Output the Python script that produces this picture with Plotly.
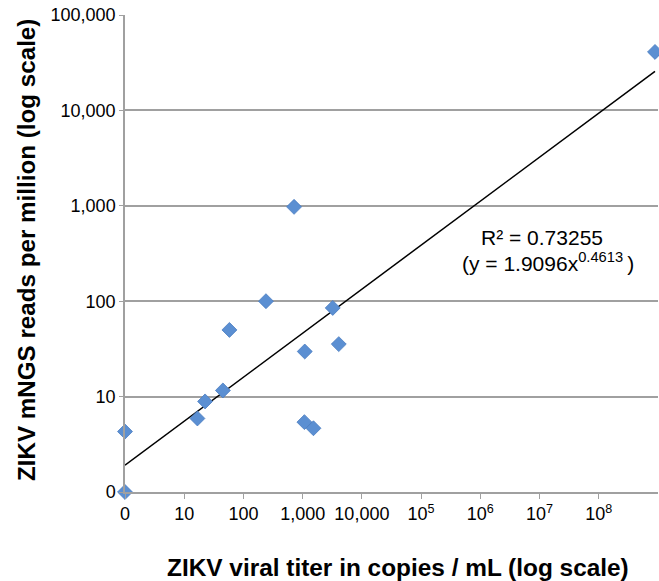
import numpy as np
import plotly.graph_objects as go

# Data (zero values plotted at 1 on the log axes)
titer = [1, 1, 16.7, 22.5, 45, 58, 240, 716, 1085, 1070, 1520, 3220, 4070, 8.9e8]
reads = [1, 4.3, 5.9, 8.9, 11.6, 50, 100, 975, 29.7, 5.4, 4.66, 85, 35.5, 41000]

# Power trendline as reported on the chart
fit_a = 1.9096
fit_b = 0.4613
fit_x_range = [1, 8.9e8]

x_tickvals = [1, 10, 100, 1000, 1e4, 1e5, 1e6, 1e7, 1e8]
x_ticktext = ["0", "10", "100", "1,000", "10,000", "10<sup>5</sup>", "10<sup>6</sup>", "10<sup>7</sup>", "10<sup>8</sup>"]
y_tickvals = [1, 10, 100, 1000, 1e4, 1e5]
y_ticktext = ["0", "10", "100", "1,000", "10,000", "100,000"]

fx = np.logspace(np.log10(fit_x_range[0]), np.log10(fit_x_range[1]), 50)
fy = fit_a * fx ** fit_b

font = "Liberation Sans, Arial, sans-serif"

fig = go.Figure()
fig.add_trace(go.Scatter(x=fx, y=fy, mode="lines",
                         line=dict(color="black", width=1.5),
                         hoverinfo="skip"))
fig.add_trace(go.Scatter(x=titer, y=reads, mode="markers",
                         marker=dict(symbol="diamond", size=11.5, color="#5B8FD2",
                                     line=dict(color="#4A7CC0", width=0.8)),
                         cliponaxis=False))

fig.add_annotation(x=7.04, y=2.665, xref="x", yref="y",
                   text="R² = 0.73255", showarrow=False,
                   font=dict(family=font, size=21, color="black"))
fig.add_annotation(x=7.15, y=2.41, xref="x", yref="y",
                   text="(y = 1.9096x<sup>0.4613 </sup>)", showarrow=False,
                   font=dict(family=font, size=21, color="black"))

# Axis titles
fig.add_annotation(x=(398 - 125) / 533, y=-(567 - 492) / 477, xref="paper", yref="paper",
                   text="<b>ZIKV viral titer in copies / mL (log scale)</b>", showarrow=False,
                   xanchor="center", yanchor="middle",
                   font=dict(family=font, size=24.4, color="black"))
fig.add_annotation(x=-(125 - 26) / 533, y=(492 - 250) / 477, xref="paper", yref="paper",
                   text="<b>ZIKV mNGS reads per million (log scale)</b>", showarrow=False,
                   textangle=-90, xanchor="center", yanchor="middle",
                   font=dict(family=font, size=24.2, color="black"))

fig.update_layout(
    width=659, height=581,
    margin=dict(l=125, r=1, t=15, b=89),
    paper_bgcolor="white", plot_bgcolor="white",
    showlegend=False,
    font=dict(family=font, size=18, color="black"),
    xaxis=dict(type="log", range=[0, 9], tickvals=x_tickvals, ticktext=x_ticktext,
               showgrid=False, showline=True, linecolor="#A0A0A0", linewidth=1.5,
               ticks="outside", ticklen=5, tickcolor="#A0A0A0", zeroline=False,
               automargin=False),
    yaxis=dict(type="log", range=[0, 5], tickvals=y_tickvals, ticktext=y_ticktext,
               showgrid=True, gridcolor="#A0A0A0", gridwidth=1.5,
               showline=True, linecolor="#A0A0A0", linewidth=1.5,
               ticks="outside", ticklen=4, tickcolor="#A0A0A0", zeroline=False,
               automargin=False),
)

fig.write_html("out.html", config={"displayModeBar": False},
               post_script="document.body.style.margin='0';document.body.style.overflow='hidden';")
